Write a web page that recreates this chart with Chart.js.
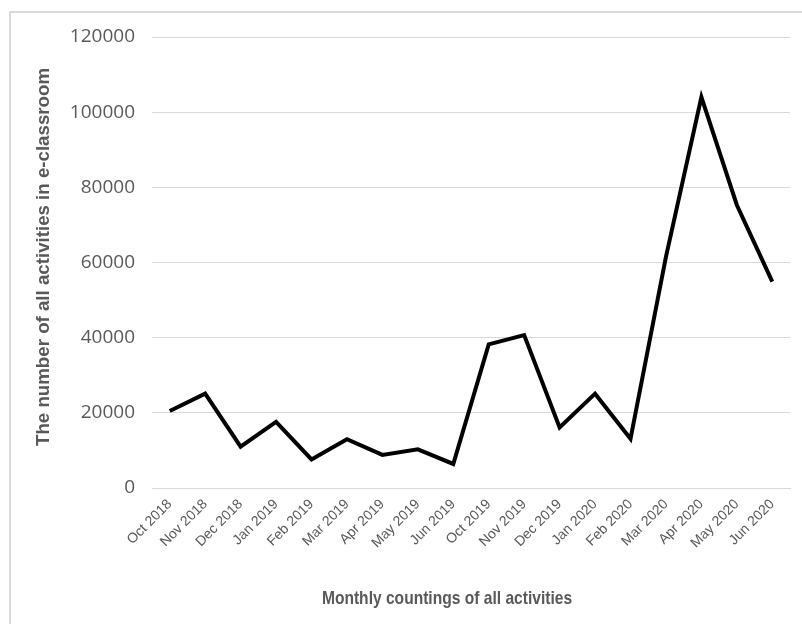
<!DOCTYPE html>
<html>
<head>
<meta charset="utf-8">
<script src="https://cdn.jsdelivr.net/npm/chart.js@4"></script>
<style>
  html, body { margin: 0; padding: 0; background: #fff; overflow: hidden; }
  #wrap { position: relative; width: 802px; height: 624px; }
  #frame { position: absolute; left: 9px; top: 11px; width: 900px; height: 800px;
           border-left: 2px solid #d9d9d9; border-top: 2px solid #d9d9d9; }
  canvas { position: absolute; left: 0; top: 0; }
</style>
</head>
<body>
<div id="wrap">
  <div id="frame"></div>
  <canvas id="c" width="802" height="624"></canvas>
</div>
<script>
// Monthly activity counts in the e-classroom
const months = [
  'Oct 2018', 'Nov 2018', 'Dec 2018', 'Jan 2019', 'Feb 2019', 'Mar 2019',
  'Apr 2019', 'May 2019', 'Jun 2019', 'Oct 2019', 'Nov 2019', 'Dec 2019',
  'Jan 2020', 'Feb 2020', 'Mar 2020', 'Apr 2020', 'May 2020', 'Jun 2020'
];
const activityCounts = [
  20500, 25100, 11000, 17600, 7600, 13000,
  8800, 10300, 6400, 38200, 40700, 16100,
  25100, 13100, 61500, 104000, 75300, 54900
];
const yTicks = [0, 20000, 40000, 60000, 80000, 100000, 120000];
const xTitle = 'Monthly countings of all activities';
const yTitle = 'The number of all activities in e-classroom';

const grey = '#595959';
const titleFamily = '"Liberation Sans", Arial, sans-serif';

// axis titles drawn at fixed spots around the plot;
// the horizontal title uses a condensed (narrow) rendering
const axisTitles = {
  id: 'axisTitles',
  afterDraw(chart) {
    const ctx = chart.ctx;
    ctx.save();
    ctx.fillStyle = grey;
    ctx.textAlign = 'center';
    ctx.textBaseline = 'middle';

    ctx.save();
    ctx.font = 'bold 19px ' + titleFamily;
    ctx.translate(447, 599);
    ctx.scale(0.82, 1);
    ctx.fillText(xTitle, 0, 0);
    ctx.restore();

    ctx.save();
    ctx.font = 'bold 18.7px ' + titleFamily;
    ctx.translate(44, 257);
    ctx.rotate(-Math.PI / 2);
    ctx.fillText(yTitle, 0, 0);
    ctx.restore();

    ctx.restore();
  }
};

new Chart(document.getElementById('c'), {
  type: 'line',
  data: {
    labels: months,
    datasets: [{
      data: activityCounts,
      borderColor: '#000',
      borderWidth: 4,
      borderJoinStyle: 'miter',
      pointRadius: 0,
      tension: 0,
      fill: false
    }]
  },
  options: {
    responsive: false,
    animation: false,
    layout: { padding: { left: 0, top: 37, right: 12, bottom: 0 } },
    plugins: { legend: { display: false }, tooltip: { enabled: false } },
    scales: {
      x: {
        type: 'category',
        offset: true,
        grid: { display: false, drawTicks: false },
        border: { display: true, color: '#d9d9d9', width: 1 },
        ticks: {
          color: grey,
          font: { family: '"Liberation Sans", Arial, sans-serif', size: 14 },
          minRotation: 45, maxRotation: 45, padding: 8, autoSkip: false
        },
        afterFit(scale) { scale.height = 136; }
      },
      y: {
        min: 0, max: 120000,
        afterBuildTicks(scale) { scale.ticks = yTicks.map(v => ({ value: v })); },
        grid: { color: '#d9d9d9', lineWidth: 1, drawTicks: false },
        border: { display: false },
        ticks: {
          color: grey,
          font: { family: '"Open Sans", sans-serif', size: 19 },
          padding: 17,
          callback: v => String(v)
        },
        afterFit(scale) { scale.width = 152; }
      }
    }
  },
  plugins: [axisTitles]
});
</script>
</body>
</html>
